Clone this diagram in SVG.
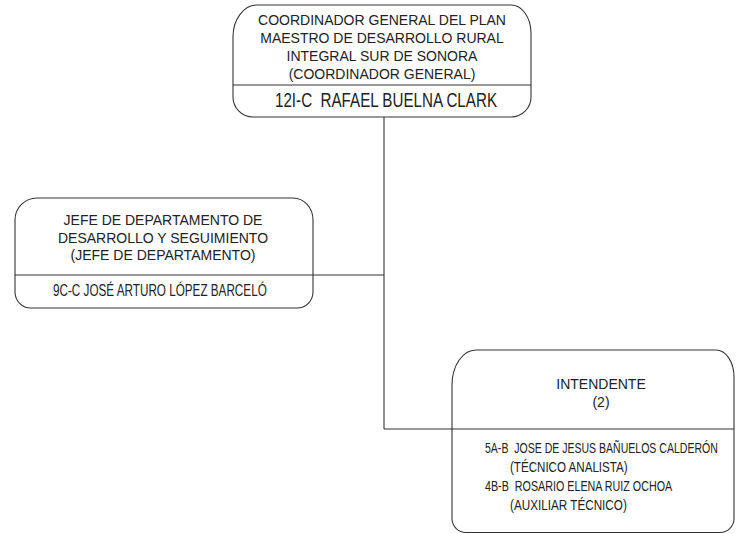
<svg xmlns="http://www.w3.org/2000/svg" width="736" height="534" viewBox="0 0 736 534">
<style>
.box{fill:#fff;stroke:#333;stroke-width:1.1}
.ln{stroke:#333;stroke-width:1.1;fill:none}
.t{font-family:"Liberation Sans",Arial,sans-serif;font-size:14px;fill:#222;text-anchor:middle}
.n{font-family:"Liberation Sans",Arial,sans-serif;fill:#222}
</style>
<rect width="736" height="534" fill="#fff"/>
<g id="connectors">
<line class="ln" x1="384" y1="117" x2="384" y2="429"/>
<line class="ln" x1="313" y1="275" x2="384" y2="275"/>
<line class="ln" x1="384" y1="429" x2="452" y2="429"/>
</g>
<g id="coordinador">
<path class="box" d="M257 5 H511 A20 28 0 0 1 531 33 V97 A20 20 0 0 1 511 117 H253 A20 20 0 0 1 233 97 V37 A24 32 0 0 1 257 5 Z"/>
<line class="ln" x1="233" y1="85" x2="531" y2="85"/>
<text class="t" x="382" y="25">COORDINADOR GENERAL DEL PLAN</text>
<text class="t" x="382" y="43">MAESTRO DE DESARROLLO RURAL</text>
<text class="t" x="382" y="61">INTEGRAL SUR DE SONORA</text>
<text class="t" x="382" y="79">(COORDINADOR GENERAL)</text>
<text class="n" transform="translate(275 107) scale(0.75 1)" x="0" y="0" font-size="20" textLength="296" lengthAdjust="spacingAndGlyphs" xml:space="preserve">12I-C  RAFAEL BUELNA CLARK</text>
</g>
<g id="jefe">
<path class="box" d="M37 198 H293 A20 22 0 0 1 313 220 V292 A16 16 0 0 1 297 308 H31 A16 16 0 0 1 15 292 V220 A22 22 0 0 1 37 198 Z"/>
<line class="ln" x1="15" y1="275" x2="313" y2="275"/>
<text class="t" x="163" y="225">JEFE DE DEPARTAMENTO DE</text>
<text class="t" x="163" y="243">DESARROLLO Y SEGUIMIENTO</text>
<text class="t" x="163" y="260">(JEFE DE DEPARTAMENTO)</text>
<text class="n" transform="translate(53 296) scale(0.75 1)" x="0" y="0" font-size="17" textLength="285" lengthAdjust="spacingAndGlyphs">9C-C JOSÉ ARTURO LÓPEZ BARCELÓ</text>
</g>
<g id="intendente">
<path class="box" d="M476 350 H716 A18 27 0 0 1 734 377 V519 A14 14 0 0 1 720 532.5 H466 A14 14 0 0 1 452 519 V385 A24 35 0 0 1 476 350 Z"/>
<line class="ln" x1="452" y1="429" x2="734" y2="429"/>
<text class="t" x="601" y="389">INTENDENTE</text>
<text class="t" x="601" y="407">(2)</text>
<text class="n" transform="translate(485 453) scale(0.8 1)" x="0" y="0" font-size="14" textLength="291" lengthAdjust="spacingAndGlyphs" xml:space="preserve">5A-B  JOSE DE JESUS BAÑUELOS CALDERÓN</text>
<text class="n" transform="translate(510 472) scale(0.8 1)" x="0" y="0" font-size="14" textLength="147" lengthAdjust="spacingAndGlyphs">(TÉCNICO ANALISTA)</text>
<text class="n" transform="translate(485 491) scale(0.8 1)" x="0" y="0" font-size="14" textLength="234" lengthAdjust="spacingAndGlyphs" xml:space="preserve">4B-B  ROSARIO ELENA RUIZ OCHOA</text>
<text class="n" transform="translate(510 510) scale(0.8 1)" x="0" y="0" font-size="14" textLength="146" lengthAdjust="spacingAndGlyphs">(AUXILIAR TÉCNICO)</text>
</g>
</svg>
